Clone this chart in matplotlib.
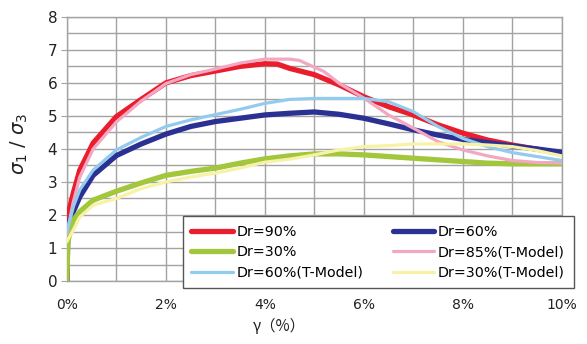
import matplotlib
matplotlib.use("Agg")
import matplotlib.pyplot as plt
from matplotlib.ticker import MultipleLocator

plt.rcParams['font.family'] = ['DejaVu Sans', 'Noto Sans CJK JP']

# measured curves (strain %, stress ratio)
x_90 = [0, 0.02, 0.13, 0.26, 0.53, 1.0, 1.5, 2.0, 2.5, 3.0, 3.5, 4.0, 4.25, 4.5,
        5.0, 5.5, 6.0, 6.5, 7.0, 7.5, 8.0, 8.5, 9.0, 9.5, 10.0]
y_90 = [0, 2.0, 2.67, 3.36, 4.18, 4.98, 5.5, 6.0, 6.22, 6.36, 6.5, 6.58, 6.57, 6.44,
        6.25, 5.94, 5.58, 5.28, 5.03, 4.73, 4.48, 4.27, 4.12, 3.99, 3.86]

x_60 = [0, 0.02, 0.13, 0.26, 0.53, 1.0, 1.5, 2.0, 2.5, 3.0, 3.5, 4.0, 4.5, 5.0,
        5.5, 6.0, 6.5, 7.0, 7.5, 8.0, 8.5, 9.0, 9.5, 10.0]
y_60 = [0, 1.7, 2.1, 2.55, 3.2, 3.8, 4.15, 4.45, 4.68, 4.83, 4.93, 5.03, 5.08, 5.12,
        5.05, 4.93, 4.76, 4.58, 4.42, 4.29, 4.19, 4.09, 4.0, 3.9]

x_30 = [0, 0.02, 0.13, 0.26, 0.53, 1.0, 1.5, 2.0, 2.5, 3.0, 3.5, 4.0, 4.5, 5.0,
        5.5, 6.0, 6.5, 7.0, 7.5, 8.0, 8.5, 9.0, 9.5, 10.0]
y_30 = [0, 1.2, 1.85, 2.1, 2.45, 2.72, 2.97, 3.2, 3.32, 3.42, 3.57, 3.7, 3.79, 3.85,
        3.85, 3.82, 3.77, 3.72, 3.67, 3.62, 3.57, 3.55, 3.55, 3.55]

# T-Model curves
x_85t = [0, 0.13, 0.26, 0.53, 1.0, 1.5, 2.0, 2.5, 3.0, 3.5, 4.0, 4.5, 4.7, 5.2,
         5.5, 6.0, 6.5, 7.0, 7.5, 8.0, 8.5, 9.0, 9.5, 10.0]
y_85t = [1.45, 2.4, 3.15, 4.0, 4.82, 5.45, 5.98, 6.25, 6.42, 6.6, 6.72, 6.72, 6.68, 6.34,
         5.99, 5.54, 5.03, 4.63, 4.22, 3.97, 3.79, 3.65, 3.59, 3.57]

x_60t = [0, 0.13, 0.26, 0.53, 1.0, 1.5, 2.0, 2.5, 3.0, 3.5, 4.0, 4.5, 5.0, 5.5,
         6.0, 6.5, 7.0, 7.5, 8.0, 8.5, 9.0, 9.5, 10.0]
y_60t = [1.5, 2.25, 2.76, 3.36, 3.97, 4.35, 4.68, 4.88, 5.04, 5.2, 5.38, 5.5, 5.53, 5.53,
         5.53, 5.43, 5.13, 4.68, 4.32, 4.07, 3.89, 3.77, 3.65]

x_30t = [0, 0.13, 0.26, 0.53, 1.0, 1.5, 2.0, 2.5, 3.0, 3.5, 4.0, 4.5, 5.0, 5.5,
         6.0, 6.5, 7.0, 7.5, 8.0, 8.5, 9.0, 9.5, 10.0]
y_30t = [1.2, 1.55, 1.94, 2.3, 2.5, 2.8, 3.0, 3.15, 3.27, 3.42, 3.6, 3.69, 3.82, 3.97,
         4.07, 4.1, 4.15, 4.15, 4.15, 4.12, 4.07, 3.95, 3.79]

x_ticks = [0, 1, 2, 3, 4, 5, 6, 7, 8, 9, 10]
x_labels = ['0%', '', '2%', '', '4%', '', '6%', '', '8%', '', '10%']

fig = plt.figure(figsize=(5.87, 3.44), dpi=100)
ax = fig.add_axes([0.114, 0.183, 0.843, 0.768])

grid_c = '#a3a3a3'
txt_c = '#222222'
lw_m = 3.8
lw_t = 2.3
ax.plot(x_90, y_90, color='#ea1d2c', lw=lw_m, label='Dr=90%', zorder=3)
ax.plot(x_60, y_60, color='#2b3192', lw=lw_m, label='Dr=60%', zorder=3)
ax.plot(x_30, y_30, color='#a2c63c', lw=lw_m, label='Dr=30%', zorder=3)
ax.plot(x_85t, y_85t, color='#f2a7c3', lw=lw_t, label='Dr=85%(T-Model)', zorder=4)
ax.plot(x_60t, y_60t, color='#93cbef', lw=lw_t, label='Dr=60%(T-Model)', zorder=4)
ax.plot(x_30t, y_30t, color='#f7f2a6', lw=lw_t, label='Dr=30%(T-Model)', zorder=4)

ax.set_xlim(0, 10)
ax.set_ylim(0, 8)
ax.set_xticks(x_ticks)
ax.set_xticklabels(x_labels)
ax.set_yticks(range(0, 9))
ax.yaxis.set_minor_locator(MultipleLocator(0.5))
ax.grid(True, which='both', color=grid_c, lw=1.0, zorder=0)
ax.set_axisbelow(True)
for s in ax.spines.values():
    s.set_color(grid_c)
    s.set_linewidth(1.0)
ax.tick_params(axis='x', length=0, pad=12, labelsize=10, labelcolor=txt_c)
ax.tick_params(axis='y', which='major', length=4, color=grid_c, pad=3,
               labelsize=11, labelcolor=txt_c)
ax.tick_params(axis='y', which='minor', length=0)

ax.set_xlabel('γ（%）', fontsize=11, color=txt_c,
              family=['Noto Sans CJK JP', 'DejaVu Sans'])
ax.xaxis.set_label_coords(0.43, -0.14)
ax.set_ylabel(r'$\sigma_1$ / $\sigma_3$', fontsize=14, color=txt_c)
ax.yaxis.set_label_coords(-0.075, 0.52)

# legend order: row-wise in two columns
h, l = ax.get_legend_handles_labels()
order = [0, 2, 4, 1, 3, 5]
leg = ax.legend([h[i] for i in order], [l[i] for i in order], ncol=2,
                loc='lower left', bbox_to_anchor=(0.234, -0.027, 0.79, 0.288),
                mode='expand', borderaxespad=0, fancybox=False, framealpha=1,
                edgecolor='#555555', fontsize=10.3, handlelength=2.9,
                handletextpad=0.25, labelspacing=0.45, borderpad=0.6,
                columnspacing=0.5)
leg.get_frame().set_linewidth(1.0)
for line in leg.get_lines():
    line.set_solid_capstyle('round')
leg.set_zorder(10)

fig.savefig('out.png', dpi=100)
